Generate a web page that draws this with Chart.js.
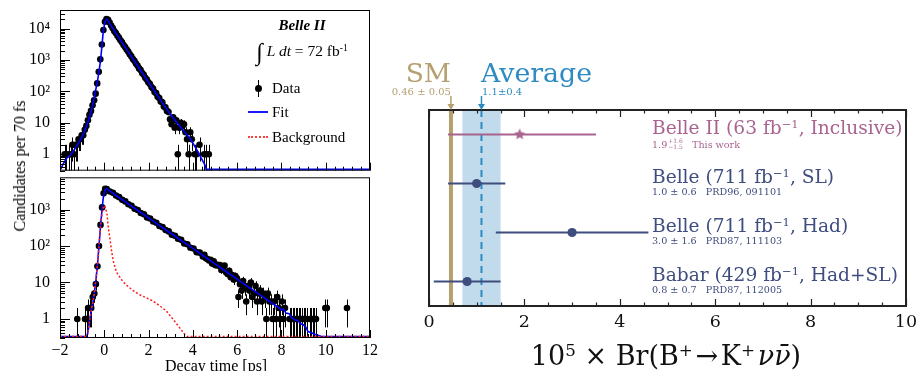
<!DOCTYPE html>
<html>
<head>
<meta charset="utf-8">
<script src="https://cdn.jsdelivr.net/npm/chart.js@4.4.1/dist/chart.umd.min.js"></script>
<style>
  html, body { margin: 0; padding: 0; background: #fff; }
  #page { position: relative; width: 919px; height: 371px; overflow: hidden; }
  #page canvas { position: absolute; }
  .t { position: absolute; white-space: nowrap; line-height: 1; }
  .root { font-family: 'Liberation Serif', 'Times New Roman', serif; color: #000; }
  .mpl { font-family: 'DejaVu Serif', serif; }
  sup { font-size: 0.62em; vertical-align: 0.55em; line-height: 0; }
  .ud { display: inline-block; vertical-align: -1px; font-size: 6px; line-height: 6px; margin-left: 1px; }
  .ud span { display: block; }
  .sym { position: absolute; }
</style>
</head>
<body>
<div id="page">
  <canvas id="topChart" style="left:0;top:0" width="380" height="174"></canvas>
  <canvas id="botChart" style="left:0;top:174px" width="380" height="197"></canvas>
  <canvas id="brChart" style="left:390px;top:0" width="529" height="371"></canvas>

  <!-- left panel texts -->
  <div class="t root" style="left:20px;top:166px;font-size:16px;transform:translate(-50%,-50%) rotate(-90deg)">Candidates per 70 fs</div>
  <div class="t root" style="left:165px;top:358px;font-size:16px">Decay time [ps]</div>
  <div class="t root" style="left:302px;top:18px;font-size:15px;transform:translateX(-50%)"><b><i>Belle II</i></b></div>
  <div class="t root" style="left:302px;top:40px;font-size:15.5px;transform:translateX(-50%)"><span style="font-size:24px;vertical-align:-4px">&#8747;</span>&nbsp;<i>L dt</i> = 72 fb<sup>-1</sup></div>
  <div class="sym" style="left:255px;top:85px;width:7px;height:7px;border-radius:50%;background:#000"></div>
  <div class="sym" style="left:258px;top:80px;width:1px;height:17px;background:#000"></div>
  <div class="t root" style="left:272px;top:81px;font-size:15px">Data</div>
  <div class="sym" style="left:248px;top:111px;width:20px;height:2px;background:#1a1aff"></div>
  <div class="t root" style="left:272px;top:105px;font-size:15px">Fit</div>
  <div class="sym" style="left:248px;top:136px;width:20px;height:0;border-top:2px dotted #ff4040"></div>
  <div class="t root" style="left:272px;top:130px;font-size:15px">Background</div>

  <!-- right panel texts -->
  <div class="t mpl" style="right:468px;top:60px;font-size:26.5px;color:#b5a070">SM</div>
  <div class="t mpl" style="right:468px;top:87px;font-size:10px;color:#b5a070">0.46 ± 0.05</div>
  <div class="t mpl" style="left:481px;top:60px;font-size:26.8px;color:#2e8ac2">Average</div>
  <div class="t mpl" style="left:482px;top:87px;font-size:10px;color:#2e8ac2">1.1±0.4</div>
  <div id="rowLabels"></div>
  <div class="t mpl" style="left:666px;top:342px;font-size:27px;color:#111;transform:translateX(-50%)">10<sup>5</sup> × Br(B<sup>+</sup>&#8202;→&#8202;K<sup>+</sup>&#8202;<i>νν̄</i>)</div>
</div>

<script>
// ---------------- left: decay time distributions ----------------
const FLOOR = 0.33;   // lower edge of both log axes

// top panel (data points, counts per 70 fs bin)
const topDataT = [-1.79, -1.72, -1.58, -1.51, -1.44, -1.37, -1.30, -1.23, -1.16, -1.09, -1.02, -0.95, -0.88, -0.81, -0.74, -0.67,
  -0.60, -0.53, -0.46, -0.39, -0.32, -0.25, -0.18, -0.11, -0.04, 0.03, 0.10,
  0.17, 0.24, 0.31, 0.38, 0.45, 0.52, 0.59, 0.66, 0.73, 0.80, 0.87, 0.94, 1.01, 1.08, 1.15, 1.22, 1.29, 1.36, 1.43, 1.50,
  1.57, 1.64, 1.71, 1.78, 1.85, 1.92, 1.99, 2.06, 2.13, 2.20, 2.27, 2.34, 2.41, 2.48, 2.55, 2.62, 2.69, 2.76, 2.83, 2.90,
  2.97, 3.04, 3.11, 3.18, 3.25, 3.32, 3.39, 3.46, 3.53, 3.60, 3.67, 3.74, 3.81, 3.88, 3.95, 4.09, 4.16, 4.30, 4.51, 4.58, 4.72];
const topDataN = [1, 1, 1, 1, 2, 1, 2, 2, 3, 3, 4, 4, 6, 8, 12, 18,
  24, 36, 52, 85, 180, 420, 1050, 3100, 9000, 16500, 20000,
  19000, 15500, 12500, 10300, 8400, 7200, 6000, 5150, 4250, 3650, 3000, 2600, 2150, 1850, 1530, 1320, 1080, 940, 770, 670,
  540, 480, 385, 340, 270, 240, 195, 172, 138, 124, 96, 88, 68, 62, 48, 45, 33, 31, 24, 22,
  13, 9, 15, 7, 12, 1, 7, 10, 8, 9, 5, 3, 1, 5, 3, 1, 1, 2, 1, 1, 1];
const topFitT = [-2, -1.95, -1.85, -1.7, -1.5, -1.3, -1.1, -0.95, -0.8, -0.7, -0.6, -0.5, -0.4, -0.3, -0.22, -0.15, -0.1,
  -0.05, 0.0, 0.05, 0.1, 0.15, 0.5, 1.0, 1.5, 2.0, 2.5, 3.0, 3.5, 3.9, 4.2, 4.4, 4.55, 4.6, 12];
const topFitV = [FLOOR, 0.36, 0.5, 0.75, 1.0, 1.6, 2.7, 4.3, 8, 13, 22, 45, 100, 230, 520, 1300, 3200,
  7500, 12500, 17500, 20000, 18500, 7500, 2220, 655, 195, 58, 18, 6.5, 3.0, 1.3, 0.7, 0.45, FLOOR, FLOOR];

// bottom panel
const botDataT = [-1.22, -0.87, -0.80, -0.73, -0.66, -0.59, -0.52, -0.45, -0.38, -0.31, -0.24, -0.17, -0.10, -0.03, 0.04,
  0.11, 0.25, 0.39, 0.53, 0.67, 0.81, 0.95, 1.09, 1.23, 1.37, 1.51, 1.65, 1.79, 1.93, 2.07, 2.21, 2.35, 2.49, 2.63, 2.77,
  2.91, 3.05, 3.19, 3.33, 3.47, 3.61, 3.75, 3.89, 4.03, 4.17, 4.31, 4.45, 4.52, 4.59, 4.66, 4.73, 4.80, 4.87, 4.94, 5.01,
  5.08, 5.15, 5.22, 5.29, 5.36, 5.43, 5.50, 5.57, 5.64, 5.71, 5.78, 5.85, 5.92, 5.99, 6.06, 6.13, 6.20, 6.27, 6.34, 6.41,
  6.48, 6.55, 6.62, 6.69, 6.76, 6.83, 6.90, 6.97, 7.04, 7.11, 7.18, 7.25, 7.32, 7.39, 7.46, 7.53, 7.60, 7.67, 7.74, 7.81,
  7.88, 7.95, 8.02, 8.09, 8.16, 8.37, 8.44, 8.51, 8.58, 8.65, 8.72, 8.79, 8.86, 8.93, 9.00, 9.07, 9.14, 9.28, 9.35, 9.42,
  9.49, 9.56, 9.98, 10.05, 10.96];
const botDataN = [1, 1, 1, 2, 2, 2, 4, 5, 9, 28, 100, 380, 1150, 2800, 3700,
  3650, 3150, 2900, 2420, 2200, 1850, 1680, 1400, 1280, 1060, 980, 810, 745, 610, 570, 470, 435, 355, 330, 275,
  252, 205, 192, 158, 148, 118, 112, 90, 86, 68, 66, 52, 58, 46, 44, 40, 42, 33, 38, 30,
  31, 29, 30, 22, 27, 29, 19, 17, 21, 14, 16, 12, 15, 13, 4, 9, 6, 11, 7, 3,
  8, 6, 10, 4, 5, 8, 3, 5, 6, 3, 5, 4, 1, 5, 3, 3, 1, 3, 1, 4,
  2, 1, 3, 1, 2, 1, 1, 1, 1, 1, 1, 1, 1, 1, 1, 1, 1, 1, 1, 1,
  1, 1, 2, 2, 2];
const botFitT = [-2, -0.78, -0.72, -0.65, -0.58, -0.5, -0.42, -0.36, -0.3, -0.24, -0.17, -0.1, -0.05, 0.0, 0.05, 0.1, 0.15,
  0.5, 1.0, 1.5, 2.0, 2.5, 3.0, 3.5, 4.0, 4.5, 5.0, 5.5, 6.0, 6.5, 7.0, 7.5, 7.9, 8.0, 8.1, 8.2, 8.35, 8.45, 8.6, 8.75,
  8.85, 9.0, 9.1, 9.2, 9.35, 9.5, 9.6, 9.75, 9.8, 12];
const botFitV = [FLOOR, FLOOR, 0.5, 1.0, 1.8, 3.2, 7, 15, 35, 100, 350, 1050, 2000, 2900, 3500, 3750, 3600,
  2520, 1556, 960, 592, 365, 225, 139, 86, 53, 32.5, 20, 12.4, 7.6, 4.7, 2.9, 2.0, 1.75, 1.85, 1.45, 1.4, 1.1, 0.95, 0.9,
  0.75, 0.68, 0.6, 0.45, 0.42, 0.38, 0.36, 0.34, FLOOR, FLOOR];
const botBkgT = [-2, -0.78, -0.72, -0.65, -0.58, -0.5, -0.42, -0.36, -0.3, -0.24, -0.17, -0.1, -0.05, 0.0, 0.04, 0.12,
  0.18, 0.25, 0.32, 0.4, 0.5, 0.6, 0.7, 0.85, 1.0, 1.3, 1.6, 1.9, 2.2, 2.5, 2.8, 3.2, 3.6, 3.75, 12];
const botBkgV = [FLOOR, FLOOR, 0.5, 1.0, 1.8, 3.2, 7, 15, 35, 100, 330, 800, 1100, 1300, 1200, 770,
  330, 166, 80, 40, 24, 17, 14, 10.5, 8.5, 6.0, 4.6, 3.8, 3.1, 2.3, 1.66, 0.83, 0.4, FLOOR, FLOOR];

const topTickValues = [1, 10, 100, 1000, 10000];
const topTickLabels = ['1', '10', '10²', '10³', '10⁴'];
const botTickValues = [1, 10, 100, 1000];
const botTickLabels = ['1', '10', '10²', '10³'];
const timeTicks = [-2, 0, 2, 4, 6, 8, 10, 12];

// ---------------- right: branching fraction summary ----------------
const expNames = ['Belle II (63 fb<sup>−1</sup>, Inclusive)', 'Belle (711 fb<sup>−1</sup>, SL)',
  'Belle (711 fb<sup>−1</sup>, Had)', 'Babar (429 fb<sup>−1</sup>, Had+SL)'];
const expNotes = ['1.9<span class="ud"><span>+1.6</span><span>−1.5</span></span>&nbsp;&nbsp;&nbsp;This work',
  '1.0 ± 0.6&nbsp;&nbsp;&nbsp;PRD96, 091101', '3.0 ± 1.6&nbsp;&nbsp;&nbsp;PRD87, 111103', '0.8 ± 0.7&nbsp;&nbsp;&nbsp;PRD87, 112005'];
const expCentral = [1.9, 1.0, 3.0, 0.8];
const expErrLo = [1.5, 0.6, 1.6, 0.7];
const expErrHi = [1.6, 0.6, 1.6, 0.7];
const expColors = ['#a8638f', '#3e4c7e', '#3e4c7e', '#3e4c7e'];
const expMarkers = ['star', 'circle', 'circle', 'circle'];
const smValue = 0.46;
const avgValue = 1.1, avgErr = 0.4;
const brTicks = [0, 2, 4, 6, 8, 10];

const ROOT_FONT = "'Liberation Serif', 'Times New Roman', serif";
const MPL_FONT = "'DejaVu Serif', serif";

function pts(ts, vs) { return ts.map((t, i) => ({ x: t, y: vs[i] })); }

function line(ctx, x1, y1, x2, y2) {
  ctx.beginPath(); ctx.moveTo(x1, y1); ctx.lineTo(x2, y2); ctx.stroke();
}

// ROOT-like frame with inward ticks
const rootFrame = {
  id: 'rootFrame',
  afterDraw(chart) {
    const { ctx, chartArea: a, scales: { x, y } } = chart;
    ctx.save();
    ctx.strokeStyle = '#000';
    ctx.lineWidth = 1;
    ctx.strokeRect(a.left + 0.5, a.top + 0.5, a.width - 1, a.height - 1);
    for (let k = -1; k <= 5; k++) {
      for (let m = 1; m <= 9; m++) {
        const v = m * Math.pow(10, k);
        if (v < y.min || v > y.max) continue;
        const py = Math.round(y.getPixelForValue(v)) + 0.5;
        line(ctx, a.left, py, a.left + (m === 1 ? 10 : 5), py);
      }
    }
    for (let i = 0; i <= 35; i++) {
      const px = Math.round(x.getPixelForValue(-2 + i * 0.4)) + 0.5;
      line(ctx, px, a.bottom, px, a.bottom - (i % 5 === 0 ? 8 : 4));
    }
    ctx.restore();
  }
};

// Poisson error bars for datasets flagged with poisson: true
const errorBars = {
  id: 'errorBars',
  beforeDatasetsDraw(chart) {
    const { ctx, chartArea: a, scales: { x, y } } = chart;
    ctx.save();
    ctx.beginPath();
    ctx.rect(a.left, a.top, a.width, a.height);
    ctx.clip();
    ctx.strokeStyle = '#000';
    ctx.lineWidth = 1;
    chart.data.datasets.forEach(ds => {
      if (!ds.poisson) return;
      ds.data.forEach(p => {
        const e = Math.sqrt(p.y);
        const px = Math.round(x.getPixelForValue(p.x)) + 0.5;
        const lo = p.y - e > 0 ? y.getPixelForValue(p.y - e) : a.bottom;
        line(ctx, px, Math.min(lo, a.bottom), px, y.getPixelForValue(p.y + e));
      });
    });
    ctx.restore();
  }
};

function decayChart(id, dT, dN, fT, fV, bT, bV, yMax, tickValues, tickLabels, showX) {
  const datasets = [
    { data: pts(dT, dN), poisson: true, pointRadius: 3.3, pointHoverRadius: 3.3,
      backgroundColor: '#000', borderColor: '#000', borderWidth: 0, order: 3 },
    { data: pts(fT, fV), showLine: true, pointRadius: 0, borderColor: '#0000ff', borderWidth: 1.6, order: 1 }
  ];
  if (bT) {
    datasets.push({ data: pts(bT, bV), showLine: true, pointRadius: 0, borderColor: '#ff2020', borderWidth: 1.5,
      borderDash: [2, 2], order: 0 });
  }
  return new Chart(document.getElementById(id), {
    type: 'scatter',
    data: { datasets },
    options: {
      responsive: false, animation: false, devicePixelRatio: 1,
      layout: { padding: { top: showX ? 0 : 10, right: 10, left: 0, bottom: 0 } },
      plugins: { legend: { display: false }, tooltip: { enabled: false } },
      scales: {
        x: {
          type: 'linear', min: -2, max: 12, display: true,
          grid: { display: false, drawTicks: false }, border: { display: false },
          afterBuildTicks: ax => { ax.ticks = timeTicks.map(v => ({ value: v })); },
          afterFit: ax => { ax.height = showX ? 33 : 0; ax.paddingLeft = 0; ax.paddingRight = 0; },
          ticks: { display: showX, padding: 3, color: '#000', font: { family: ROOT_FONT, size: 16 },
                   callback: v => (v < 0 ? '−' + (-v) : String(v)) }
        },
        y: {
          type: 'logarithmic', min: FLOOR, max: yMax,
          grid: { display: false, drawTicks: false }, border: { display: false },
          afterBuildTicks: ax => { ax.ticks = tickValues.map(v => ({ value: v })); },
          afterFit: ax => { ax.width = 60; ax.paddingTop = 0; ax.paddingBottom = 0; },
          ticks: { padding: 10, color: '#000', font: { family: ROOT_FONT, size: 16 },
                   callback: v => tickLabels[tickValues.indexOf(v)] }
        }
      }
    },
    plugins: [errorBars, rootFrame]
  });
}

// background is negligible in the top panel (sits on the floor under the fit)
decayChart('topChart', topDataT, topDataN, topFitT, topFitV, null, null, 39000, topTickValues, topTickLabels, false);
decayChart('botChart', botDataT, botDataN, botFitT, botFitV, botBkgT, botBkgV, 7700, botTickValues, botTickLabels, true);

// ---------------- right chart ----------------
function starImage(color, r) {
  const c = document.createElement('canvas');
  c.width = c.height = 2 * r + 2;
  const g = c.getContext('2d');
  g.fillStyle = color;
  g.beginPath();
  for (let i = 0; i < 10; i++) {
    const rr = i % 2 ? r * 0.45 : r;
    const ang = -Math.PI / 2 + i * Math.PI / 5;
    g.lineTo(r + 1 + rr * Math.cos(ang), r + 1 + rr * Math.sin(ang));
  }
  g.closePath();
  g.fill();
  return c;
}

function arrowDown(ctx, x, y0, y1, color) {
  ctx.strokeStyle = color; ctx.fillStyle = color; ctx.lineWidth = 1.5; ctx.setLineDash([]);
  line(ctx, x, y0, x, y1 - 3);
  ctx.beginPath(); ctx.moveTo(x - 3.5, y1 - 6); ctx.lineTo(x + 3.5, y1 - 6); ctx.lineTo(x, y1); ctx.closePath(); ctx.fill();
}

const brDecor = {
  id: 'brDecor',
  beforeDatasetsDraw(chart) {
    const { ctx, chartArea: a, scales: { x } } = chart;
    ctx.save();
    const b0 = x.getPixelForValue(avgValue - avgErr), b1 = x.getPixelForValue(avgValue + avgErr);
    ctx.fillStyle = '#c1dbed';
    ctx.fillRect(b0, a.top, b1 - b0, a.height);
    const sx = x.getPixelForValue(smValue);
    ctx.strokeStyle = '#b5a070'; ctx.lineWidth = 4;
    line(ctx, sx, a.top, sx, a.bottom);
    const ax = x.getPixelForValue(avgValue);
    ctx.strokeStyle = '#2e8ac2'; ctx.lineWidth = 2; ctx.setLineDash([7, 5]);
    line(ctx, ax, a.top, ax, a.bottom);
    ctx.restore();
  },
  afterDraw(chart) {
    const { ctx, chartArea: a, scales: { x } } = chart;
    ctx.save();
    ctx.strokeStyle = '#222'; ctx.lineWidth = 1.2;
    for (let i = 0; i <= 20; i++) {
      const px = Math.round(x.getPixelForValue(i * 0.5)) + 0.5;
      const len = i % 4 === 0 ? 7 : 3.5;
      line(ctx, px, a.bottom, px, a.bottom - len);
      line(ctx, px, a.top, px, a.top + len);
    }
    ctx.lineWidth = 2;
    ctx.strokeRect(a.left, a.top, a.width, a.height);
    arrowDown(ctx, x.getPixelForValue(smValue), a.top - 14, a.top, '#b5a070');
    arrowDown(ctx, x.getPixelForValue(avgValue), a.top - 14, a.top, '#2e8ac2');
    ctx.restore();
  }
};

const brChart = new Chart(document.getElementById('brChart'), {
  type: 'scatter',
  data: {
    datasets: [
      ...expCentral.map((c, i) => ({
        data: [{ x: c - expErrLo[i], y: i }, { x: c + expErrHi[i], y: i }],
        showLine: true, borderColor: expColors[i], borderWidth: 2, pointRadius: 0, order: 2
      })),
      {
        data: expCentral.map((c, i) => ({ x: c, y: i })),
        pointStyle: expMarkers.map((m, i) => (m === 'star' ? starImage(expColors[i], 6) : 'circle')),
        pointRadius: 4.6, backgroundColor: expColors, borderColor: expColors, borderWidth: 0, order: 1
      }
    ]
  },
  options: {
    responsive: false, animation: false, devicePixelRatio: 1,
    layout: { padding: { top: 110, right: 13, left: 39, bottom: 0 } },
    plugins: { legend: { display: false }, tooltip: { enabled: false } },
    scales: {
      x: {
        type: 'linear', min: 0, max: 10,
        grid: { display: false, drawTicks: false }, border: { display: false },
        afterBuildTicks: ax => { ax.ticks = brTicks.map(v => ({ value: v })); },
        afterFit: ax => { ax.height = 65; ax.paddingLeft = 0; ax.paddingRight = 0; },
        ticks: { padding: 6, color: '#111', font: { family: MPL_FONT, size: 17.5 } }
      },
      y: {
        type: 'linear', min: -0.5, max: 3.5, reverse: true, display: false,
        afterFit: ax => { ax.width = 0; ax.paddingTop = 0; ax.paddingBottom = 0; }
      }
    }
  },
  plugins: [brDecor]
});

// row labels placed next to each measurement via the chart scales
const rowBox = document.getElementById('rowLabels');
const yScale = brChart.scales.y;
expNames.forEach((name, i) => {
  const rowY = yScale.getPixelForValue(i);
  const big = document.createElement('div');
  big.className = 't mpl';
  big.style.cssText = `left:652px;top:${rowY - 15.8}px;font-size:18.6px;color:${expColors[i]}`;
  big.innerHTML = name;
  const small = document.createElement('div');
  small.className = 't mpl';
  small.style.cssText = `left:652px;top:${rowY + 3.2}px;font-size:9.6px;color:${expColors[i]}`;
  small.innerHTML = expNotes[i];
  rowBox.appendChild(big);
  rowBox.appendChild(small);
});
</script>
</body>
</html>
